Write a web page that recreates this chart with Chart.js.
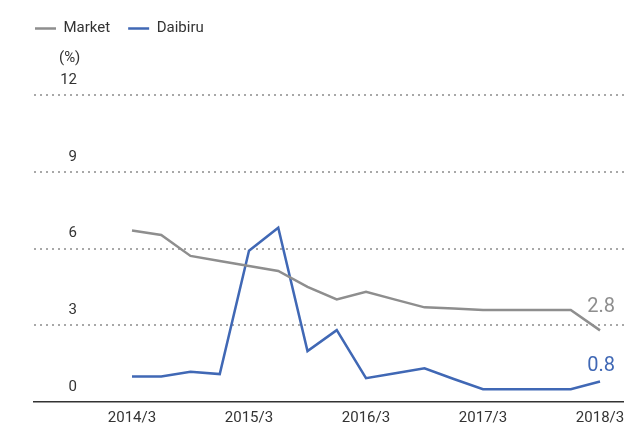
<!DOCTYPE html>
<html>
<head>
<meta charset="utf-8">
<script src="https://cdn.jsdelivr.net/npm/chart.js@4.4.1/dist/chart.umd.min.js"></script>
<style>
  html, body { margin: 0; padding: 0; background: #fff; }
  #wrap { width: 624px; height: 426px; }
</style>
</head>
<body>
<div id="wrap"><canvas id="vacancyChart"></canvas></div>
<script>
  // quarterly points, 2014/3 .. 2018/3
  var quarters = ['2014/3', '2014/6', '2014/9', '2014/12',
                  '2015/3', '2015/6', '2015/9', '2015/12',
                  '2016/3', '2016/6', '2016/9', '2016/12',
                  '2017/3', '2017/6', '2017/9', '2017/12',
                  '2018/3'];
  var marketVals  = [6.7, 6.53, 5.71, 5.51, 5.32, 5.12, 4.5, 4.01, 4.31, 4.0, 3.7, 3.65, 3.6, 3.6, 3.6, 3.6, 2.8];
  var daibiruVals = [1.0, 1.0, 1.18, 1.09, 5.91, 6.81, 1.99, 2.81, 0.93, 1.12, 1.32, 0.9, 0.5, 0.5, 0.5, 0.5, 0.8];
  var yTicks = [0, 3, 6, 9, 12];

  var grey = '#8e8e8e';
  var blue = '#4068b5';
  var textColor = '#333333';

  function toPoints(vals) {
    return vals.map(function(v, i) { return {x: i, y: v}; });
  }

  // y labels sit above the dotted lines, right aligned
  var yLabelPlugin = {
    id: 'yLabels',
    afterDraw: function(chart) {
      var ctx = chart.ctx;
      var yScale = chart.scales.y;
      ctx.save();
      ctx.font = '15px Roboto';
      ctx.fillStyle = textColor;
      ctx.textBaseline = 'middle';
      ctx.textAlign = 'right';
      yScale.ticks.forEach(function(t) {
        ctx.fillText(String(t.value), 77, yScale.getPixelForValue(t.value) - 15);
      });
      ctx.textAlign = 'left';
      ctx.fillText('(%)', 59, 58);
      ctx.restore();
    }
  };

  // last value written next to the end of each line
  var endLabelPlugin = {
    id: 'endLabels',
    afterDatasetsDraw: function(chart) {
      var ctx = chart.ctx;
      var offsets = [-23, -16];
      ctx.save();
      ctx.font = '20px Roboto';
      ctx.textAlign = 'center';
      ctx.textBaseline = 'middle';
      chart.data.datasets.forEach(function(ds, i) {
        var meta = chart.getDatasetMeta(i);
        var last = meta.data[meta.data.length - 1];
        ctx.fillStyle = ds.borderColor;
        ctx.fillText(ds.data[ds.data.length - 1].y.toFixed(1), last.x + 1, last.y + offsets[i]);
      });
      ctx.restore();
    }
  };

  var ctx = document.getElementById('vacancyChart');
  var myChart = new Chart(ctx, {
    type: 'line',
    data: {
      datasets: [{
        label: 'Market',
        data: toPoints(marketVals),
        borderColor: grey,
        backgroundColor: grey,
        borderWidth: 2.5,
        pointRadius: 0,
        tension: 0
      }, {
        label: 'Daibiru',
        data: toPoints(daibiruVals),
        borderColor: blue,
        backgroundColor: blue,
        borderWidth: 2.5,
        pointRadius: 0,
        tension: 0
      }]
    },
    options: {
      responsive: true,
      maintainAspectRatio: false,
      animation: false,
      layout: { padding: { left: 17, right: 0, top: 3, bottom: 0 } },
      plugins: {
        legend: {
          position: 'top',
          align: 'start',
          labels: {
            usePointStyle: true,
            pointStyle: 'line',
            pointStyleWidth: 21,
            boxHeight: 15,
            padding: 18,
            color: textColor,
            font: { family: 'Roboto', size: 15 }
          }
        },
        // empty title used as a spacer under the legend
        title: {
          display: true,
          text: '',
          weight: 500,
          padding: 0,
          font: { size: 49, lineHeight: 1 }
        },
        tooltip: { enabled: false }
      },
      scales: {
        x: {
          type: 'linear',
          min: -3.35,
          max: 16.82,
          afterBuildTicks: function(scale) {
            scale.ticks = [0, 4, 8, 12, 16].map(function(v) { return {value: v}; });
          },
          afterFit: function(scale) {
            scale.height = 24;
            scale.paddingLeft = 0;
            scale.paddingRight = 0;
          },
          ticks: {
            autoSkip: false,
            maxRotation: 0,
            padding: 9,
            color: textColor,
            font: { family: 'Roboto', size: 15, lineHeight: 1 },
            callback: function(v) { return quarters[v]; }
          },
          grid: { display: false, drawTicks: false },
          border: { display: true, color: '#333333', width: 1.5 }
        },
        y: {
          min: 0,
          max: 12,
          afterBuildTicks: function(scale) {
            scale.ticks = yTicks.map(function(v) { return {value: v}; });
          },
          afterFit: function(scale) { scale.width = 17; },
          ticks: { display: false },
          grid: {
            drawTicks: false,
            lineWidth: 2,
            color: function(c) { return c.tick && c.tick.value === 0 ? 'rgba(0,0,0,0)' : '#a8a8a8'; }
          },
          border: { display: false, dash: [2, 4] }
        }
      }
    },
    plugins: [yLabelPlugin, endLabelPlugin]
  });
</script>
</body>
</html>
